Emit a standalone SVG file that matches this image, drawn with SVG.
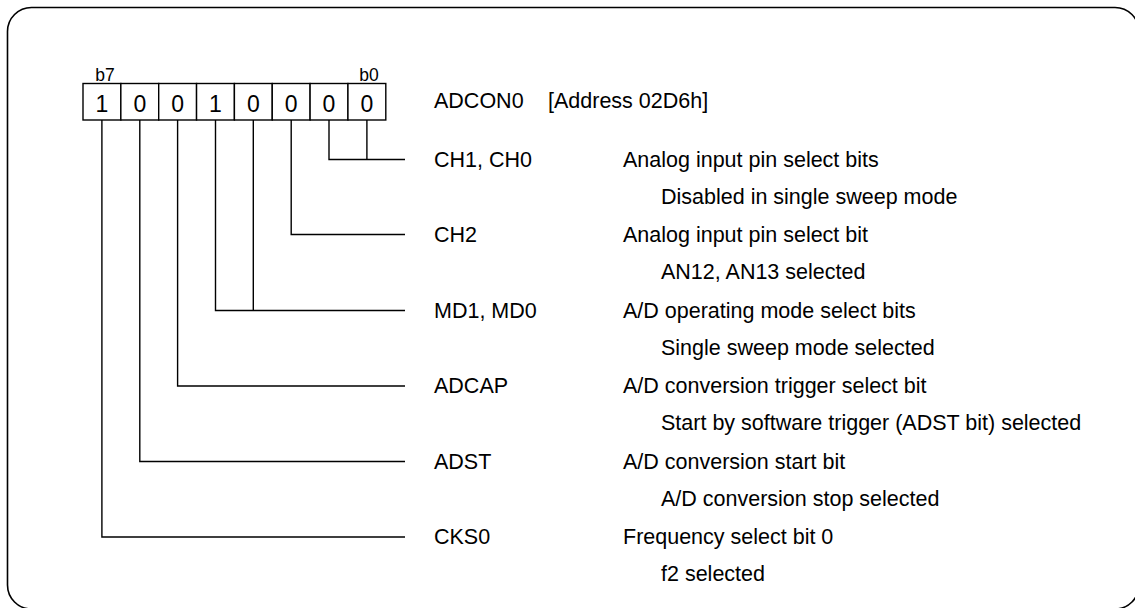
<svg xmlns="http://www.w3.org/2000/svg" width="1135" height="608" viewBox="0 0 1135 608">
<style>
text{font-family:"Liberation Sans",Arial,sans-serif;fill:#000}
.t{font-size:21.5px}
.d{font-size:23px;text-anchor:middle}
.b{font-size:17.5px;text-anchor:middle}
.ln{fill:none;stroke:#000;stroke-width:1.4}
.frame{fill:#fff;stroke:#000;stroke-width:1.6}
.cell{fill:#fff;stroke:#000;stroke-width:1.4}
</style>
<rect class="frame" x="7.5" y="7.5" width="1131.5" height="601.5" rx="24" ry="24"/>
<g id="register">
<rect class="cell" x="83" y="83.5" width="37.85" height="36.5"/>
<rect class="cell" x="120.85" y="83.5" width="37.85" height="36.5"/>
<rect class="cell" x="158.7" y="83.5" width="37.85" height="36.5"/>
<rect class="cell" x="196.55" y="83.5" width="37.85" height="36.5"/>
<rect class="cell" x="234.4" y="83.5" width="37.85" height="36.5"/>
<rect class="cell" x="272.25" y="83.5" width="37.85" height="36.5"/>
<rect class="cell" x="310.1" y="83.5" width="37.85" height="36.5"/>
<rect class="cell" x="347.95" y="83.5" width="37.85" height="36.5"/>
<text class="d" x="101.9" y="111.7">1</text>
<text class="d" x="139.8" y="111.7">0</text>
<text class="d" x="177.6" y="111.7">0</text>
<text class="d" x="215.5" y="111.7">1</text>
<text class="d" x="253.3" y="111.7">0</text>
<text class="d" x="291.2" y="111.7">0</text>
<text class="d" x="329" y="111.7">0</text>
<text class="d" x="366.9" y="111.7">0</text>
<text class="b" x="105" y="80.5">b7</text>
<text class="b" x="369" y="80.5">b0</text>
<text class="t" x="434" y="108.3">ADCON0</text>
<text class="t" x="548" y="108.3">[Address 02D6h]</text>
</g>
<g id="connectors">
<path class="ln" d="M329 120V159.5H405M366.9 120V159.5"/>
<path class="ln" d="M291.2 120V234.5H405"/>
<path class="ln" d="M215.5 120V310.5H405M253.3 120V310.5"/>
<path class="ln" d="M177.6 120V386H405"/>
<path class="ln" d="M139.8 120V461.5H405"/>
<path class="ln" d="M101.9 120V537H405"/>
</g>
<g id="ch">
<text class="t" x="434" y="166.5">CH1, CH0</text>
<text class="t" x="623" y="166.5">Analog input pin select bits</text>
<text class="t" x="661" y="203.5">Disabled in single sweep mode</text>
</g>
<g id="ch2">
<text class="t" x="434" y="241.5">CH2</text>
<text class="t" x="623" y="241.5">Analog input pin select bit</text>
<text class="t" x="661" y="278.5">AN12, AN13 selected</text>
</g>
<g id="md">
<text class="t" x="434" y="317.5">MD1, MD0</text>
<text class="t" x="623" y="317.5">A/D operating mode select bits</text>
<text class="t" x="661" y="354.5">Single sweep mode selected</text>
</g>
<g id="adcap">
<text class="t" x="434" y="393">ADCAP</text>
<text class="t" x="623" y="393">A/D conversion trigger select bit</text>
<text class="t" x="661" y="430">Start by software trigger (ADST bit) selected</text>
</g>
<g id="adst">
<text class="t" x="434" y="468.5">ADST</text>
<text class="t" x="623" y="468.5">A/D conversion start bit</text>
<text class="t" x="661" y="505.5">A/D conversion stop selected</text>
</g>
<g id="cks0">
<text class="t" x="434" y="544">CKS0</text>
<text class="t" x="623" y="544">Frequency select bit 0</text>
<text class="t" x="661" y="581">f2 selected</text>
</g>
</svg>
